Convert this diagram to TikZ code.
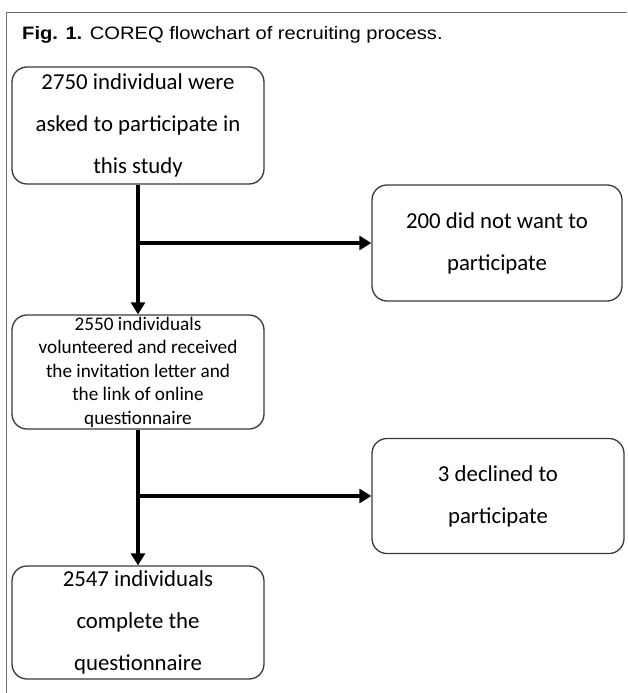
\documentclass[tikz,border=0pt]{standalone}
\usepackage{fontspec}
\setmainfont{Carlito}
\newfontfamily\titlefont[FakeStretch=1.12]{Liberation Sans}
\usetikzlibrary{arrows.meta}
\definecolor{boxline}{HTML}{3A3A3A}
\definecolor{framegray}{HTML}{6E6E6E}
\begin{document}
\begin{tikzpicture}[x=1pt,y=-1pt,
  flowbox/.style={draw=boxline, line width=1.3pt, rounded corners=15pt, fill=white,
    align=center, inner sep=0pt, minimum width=252pt},
  bigtext/.style={font=\fontsize{22.8}{42}\selectfont},
  smalltext/.style={font=\fontsize{19.2}{23.5}\selectfont},
  flowarrow/.style={line width=4pt, -{Triangle[length=12pt,width=14pt]}}]
\useasboundingbox (0,0) rectangle (627,693);
\draw[framegray, line width=1.5pt] (6.5,693) |- (627,12.5);
\node[anchor=base west, font=\titlefont\fontsize{18}{20}\selectfont, inner sep=0pt] (title) at (22,40)
  {\textbf{Fig. 1.} COREQ flowchart of recruiting process.};
\node[flowbox, bigtext, minimum height=117pt] (b1) at (138,125.5)
  {2750 individual were\\asked to participate in\\this study};
\node[flowbox, bigtext, minimum height=116pt, minimum width=250pt] (b2) at (497,243)
  {200 did not want to\\participate};
\node[flowbox, smalltext, minimum height=114pt] (b3) at (138,372)
  {2550 individuals\\volunteered and received\\the invitation letter and\\the link of online\\questionnaire};
\node[flowbox, bigtext, minimum height=115pt] (b4) at (498,496)
  {3 declined to\\participate};
\node[flowbox, bigtext, minimum height=113pt] (b5) at (138,622.5)
  {2547 individuals\\complete the\\questionnaire};
\coordinate (j1) at (b1.south |- b2.west);
\coordinate (j2) at (b3.south |- b4.west);
\draw[flowarrow] (b1.south) -- (b3.north);
\draw[flowarrow] (j1) -- (b2.west);
\draw[flowarrow] (b3.south) -- (b5.north);
\draw[flowarrow] (j2) -- (b4.west);
\end{tikzpicture}
\end{document}
